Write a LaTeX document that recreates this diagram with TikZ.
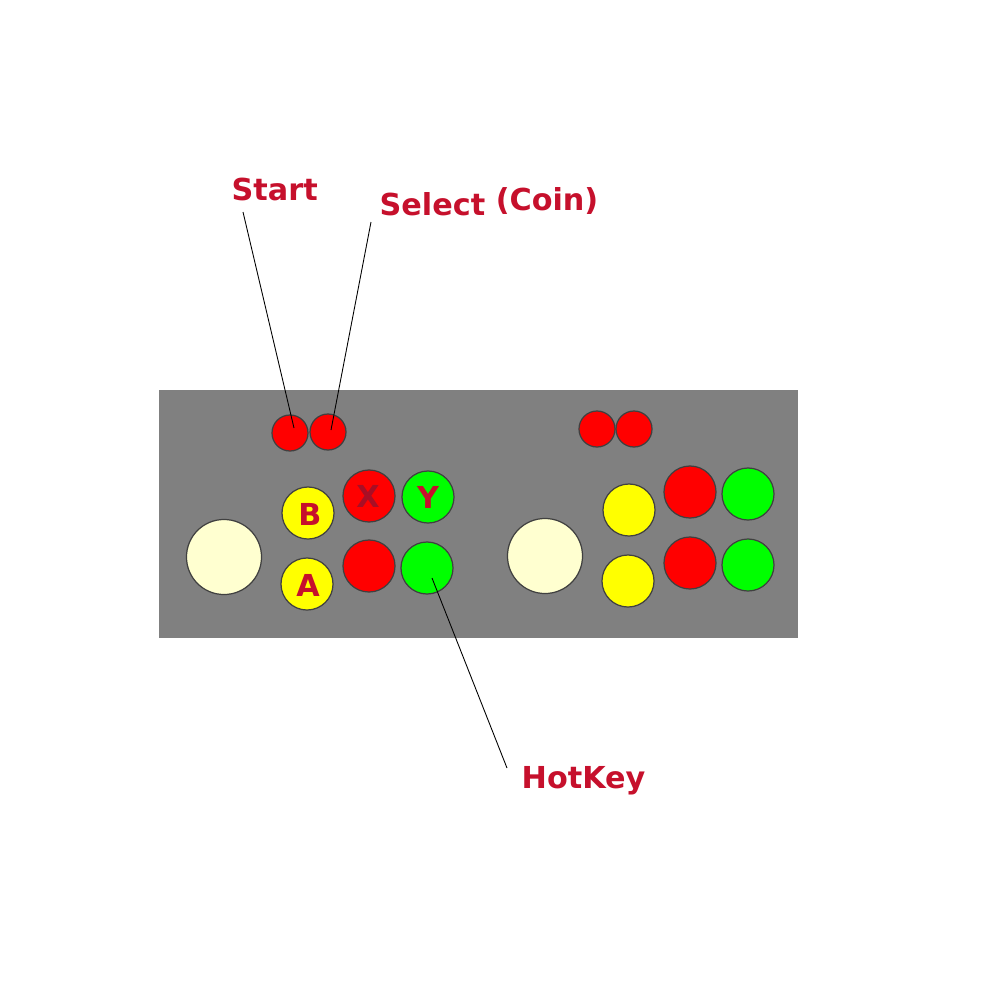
\documentclass[tikz,border=0pt]{standalone}
\usepackage{fontspec}
\setmainfont{DejaVu Sans}
\definecolor{lbl}{RGB}{198,16,44}
\definecolor{panelgray}{RGB}{128,128,128}
\definecolor{btnred}{RGB}{255,0,0}
\definecolor{btngreen}{RGB}{0,255,0}
\definecolor{btnyellow}{RGB}{255,255,0}
\definecolor{stickcream}{RGB}{255,255,208}
\definecolor{rimgray}{RGB}{64,64,64}
\begin{document}
\begin{tikzpicture}[x=0.01cm,y=-0.01cm,
  btn/.style={circle,draw=rimgray,line width=0.35pt,inner sep=0pt,minimum size=52\pgflinewidth},
  big/.style={circle,draw=rimgray,line width=0.35pt,inner sep=0pt,minimum size=0.52cm},
  small/.style={circle,draw=rimgray,line width=0.35pt,inner sep=0pt,minimum size=0.36cm,fill=btnred},
  stick/.style={circle,draw=rimgray,line width=0.35pt,inner sep=0pt,minimum size=0.75cm,fill=stickcream},
  lbltext/.style={text=lbl,font=\fontsize{8.6}{10}\selectfont\bfseries,inner sep=0pt,anchor=base west},
  btnletter/.style={text=lbl,font=\fontsize{8.6}{10}\selectfont\bfseries,inner sep=0pt,anchor=base},
  leader/.style={draw=black,line width=0.25pt}]
\useasboundingbox (0,0) rectangle (1000,1000);
\fill[white] (0,0) rectangle (1000,1000);
% panel
\node[fill=panelgray,inner sep=0pt,minimum width=6.39cm,minimum height=2.48cm,anchor=north west] (panel) at (158,389) {};
% left player
\node[stick] (lstick) at (224,557) {};
\node[small] (lstart) at (290,433) {};
\node[small] (lselect) at (328,432) {};
\node[big,fill=btnyellow] (lb) at (308,513) {};
\node[big,fill=btnyellow] (la) at (307,584) {};
\node[big,fill=btnred] (lx) at (369,496) {};
\node[big,fill=btngreen] (ly) at (428,497) {};
\node[big,fill=btnred] (lr2) at (369,566) {};
\node[big,fill=btngreen] (lg2) at (427,568) {};
\node[btnletter] (tb) at (310,525) {B};
\node[btnletter,text=lbl!85!black] (tx) at (368,507) {X};
\node[btnletter] (ty) at (428,508) {Y};
\node[btnletter] (ta) at (308,596) {A};
% right player
\node[stick] (rstick) at (545,556) {};
\node[small] (rstart) at (597,429) {};
\node[small] (rselect) at (634,429) {};
\node[big,fill=btnyellow] (rb) at (629,510) {};
\node[big,fill=btnyellow] (ra) at (628,581) {};
\node[big,fill=btnred] (rx) at (690,492) {};
\node[big,fill=btngreen] (ry) at (748,494) {};
\node[big,fill=btnred] (rr2) at (690,563) {};
\node[big,fill=btngreen] (rg2) at (748,565) {};
% labels
\node[lbltext] (startlbl) at (231,200) {Start};
\node[lbltext] (selectlbl) at (379,215) {Select \raisebox{1.4pt}{(Coin)}};
\node[lbltext] (hotlbl) at (521,788) {HotKey};
% leader lines
\coordinate (starttail) at (243,212);
\coordinate (starttip) at (294,428);
\coordinate (selecttail) at (371,222);
\coordinate (selecttip) at (331,430);
\coordinate (hottail) at (507,768);
\coordinate (hottip) at (432,578);
\draw[leader] (starttail) -- (starttip);
\draw[leader] (selecttail) -- (selecttip);
\draw[leader] (hottip) -- (hottail);
\end{tikzpicture}
\end{document}
